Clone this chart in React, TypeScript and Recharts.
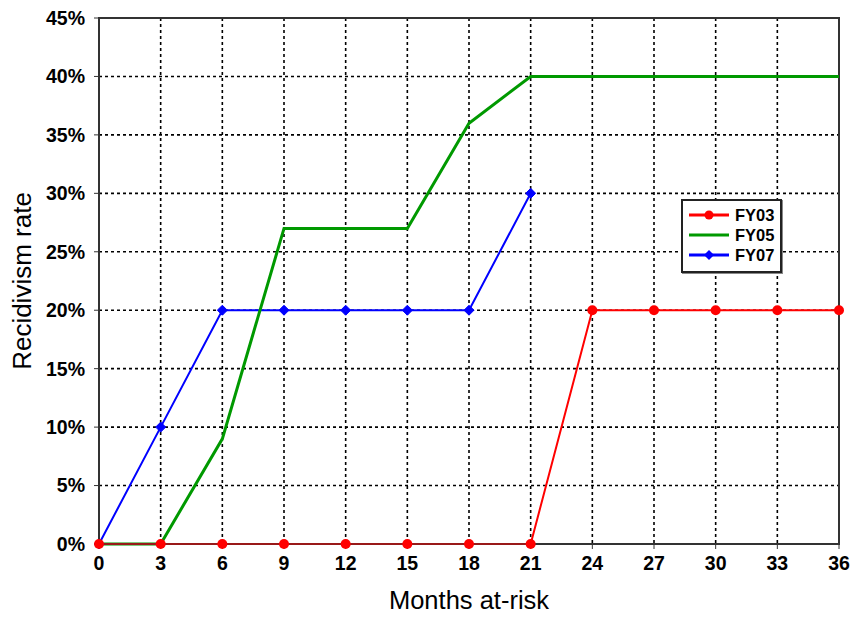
import React from 'react';
import { LineChart, Line, XAxis, YAxis, CartesianGrid, ReferenceArea } from 'recharts';

const months = [0, 3, 6, 9, 12, 15, 18, 21, 24, 27, 30, 33, 36];
const fy03 = [0, 0, 0, 0, 0, 0, 0, 0, 20, 20, 20, 20, 20];
const fy05 = [0, 0, 9, 27, 27, 27, 36, 40, 40, 40, 40, 40, 40];
const fy07: (number | null)[] = [0, 10, 20, 20, 20, 20, 20, 30, null, null, null, null, null];
const yTicks = [0, 5, 10, 15, 20, 25, 30, 35, 40, 45];

const data = months.map((m, i) => ({ m, FY03: fy03[i], FY05: fy05[i], FY07: fy07[i] }));

const FONT = '"Liberation Sans", Arial, sans-serif';

const Diamond = (props: any) => {
  const { cx, cy } = props;
  if (cx == null || cy == null) return null;
  const s = 5;
  return <path d={`M${cx},${cy - s}L${cx + s},${cy}L${cx},${cy + s}L${cx - s},${cy}Z`} fill="#0000ff" stroke="#0000ff" />;
};

const items = [
  { name: 'FY03', color: '#ff0000', marker: 'circle' },
  { name: 'FY05', color: '#009900', marker: 'none' },
  { name: 'FY07', color: '#0000ff', marker: 'diamond' },
];

const LegendBox = () => (
  <div
    style={{
      position: 'absolute',
      left: 681,
      top: 199,
      width: 97,
      height: 70,
      border: '2px solid #222',
      background: '#fff',
      fontFamily: FONT,
      boxShadow: '1px 1px 0 #888',
    }}
  >
    {items.map((it, i) => (
      <div key={it.name} style={{ position: 'absolute', left: 0, top: 4 + i * 20, display: 'flex', alignItems: 'center', height: 20 }}>
        <svg width={48} height={14} style={{ marginLeft: 4 }}>
          <line x1={2} y1={7} x2={42} y2={7} stroke={it.color} strokeWidth={3} />
          {it.marker === 'circle' && <circle cx={22} cy={7} r={4.5} fill={it.color} />}
          {it.marker === 'diamond' && <path d="M22,2L27,7L22,12L17,7Z" fill={it.color} />}
        </svg>
        <span style={{ fontWeight: 'bold', fontSize: 16.5, color: '#000', marginLeft: 0 }}>{it.name}</span>
      </div>
    ))}
  </div>
);

export default function App() {
  return (
    <div style={{ position: 'absolute', left: 0, top: 0, width: 854, height: 617, background: '#fff' }}>
      <LineChart width={854} height={617} data={data} margin={{ top: 18, right: 15, left: 0, bottom: 0 }}>
        <CartesianGrid stroke="#000" strokeDasharray="3 3" strokeWidth={1.6} />
        <XAxis
          dataKey="m"
          type="number"
          domain={[0, 36]}
          ticks={months}
          height={73}
          tickSize={5}
          stroke="#333"
          tick={{ fill: '#000', fontSize: 19.5, fontWeight: 'bold', fontFamily: FONT }}
          tickMargin={7}
          label={{ value: 'Months at-risk', position: 'insideBottom', offset: 8, style: { fill: '#000', fontSize: 25.5, fontFamily: FONT } }}
        />
        <YAxis
          type="number"
          domain={[0, 45]}
          ticks={yTicks}
          width={99}
          tickSize={5}
          stroke="#333"
          tickFormatter={(v) => `${v}%`}
          tick={{ fill: '#000', fontSize: 19.5, fontWeight: 'bold', fontFamily: FONT }}
          tickMargin={9}
          label={{ value: 'Recidivism rate', angle: -90, position: 'insideLeft', offset: 22, style: { fill: '#000', fontSize: 26, fontFamily: FONT, textAnchor: 'middle' } }}
        />
        <ReferenceArea x1={0} x2={36} y1={0} y2={45} fill="none" stroke="#333" strokeWidth={2} ifOverflow="visible" />
        <Line dataKey="FY07" stroke="#0000ff" strokeWidth={2} dot={<Diamond />} isAnimationActive={false} connectNulls={false} />
        <Line dataKey="FY05" stroke="#009900" strokeWidth={3} dot={false} isAnimationActive={false} />
        <Line dataKey="FY03" stroke="#ff0000" strokeWidth={2} dot={{ r: 5, fill: '#ff0000', stroke: '#ff0000', strokeWidth: 0 }} isAnimationActive={false} />
      </LineChart>
      <LegendBox />
    </div>
  );
}
